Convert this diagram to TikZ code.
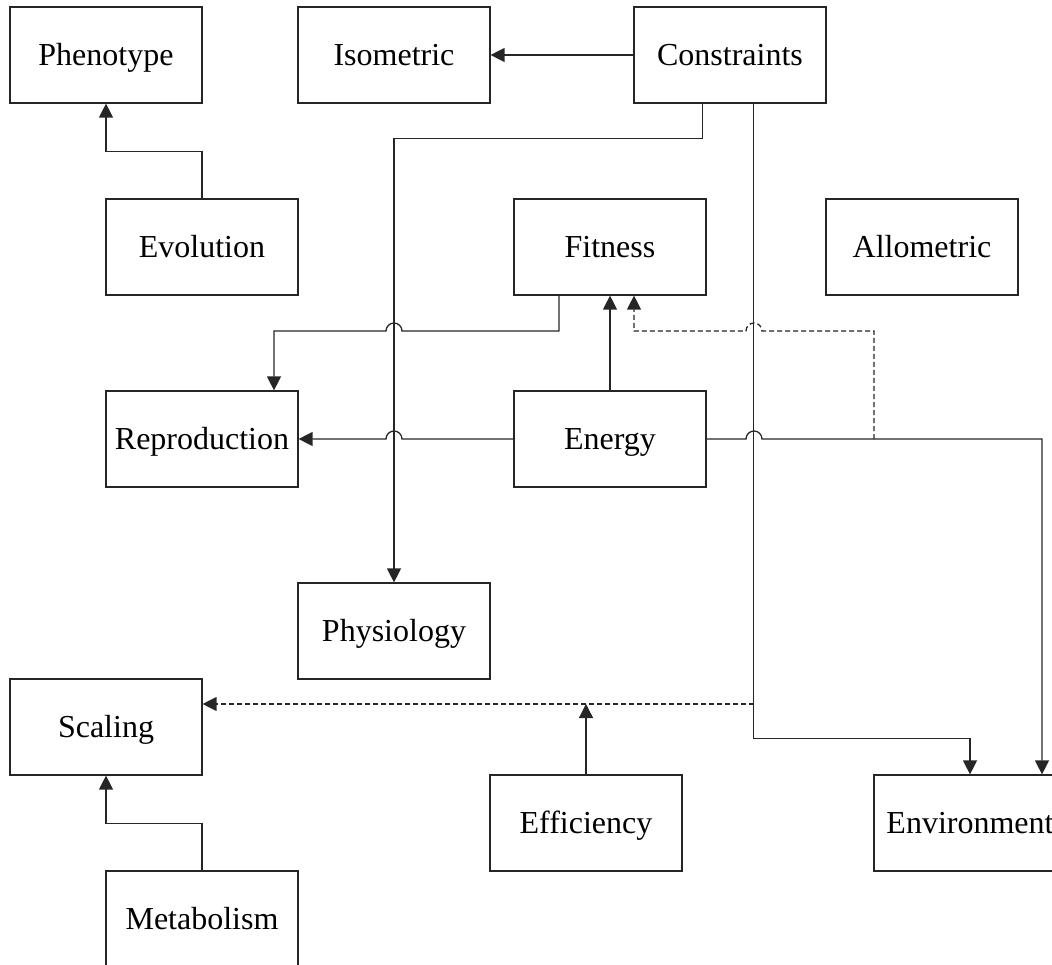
\documentclass[tikz,border=0pt]{standalone}
\usepackage{fontspec}
\setmainfont{Liberation Serif}
\usetikzlibrary{arrows.meta,calc}
\begin{document}
\begin{tikzpicture}[x=1pt,y=-1pt,
  box/.style={draw=black!85,line width=1.2pt,minimum width=192pt,minimum height=96pt,
              inner sep=0pt,text height=21pt,text depth=0pt,
              font=\fontsize{32}{38}\selectfont},
  link/.style={draw=black!85,line width=1.3pt},
  arr/.style={link,-{Triangle[length=14pt,width=14pt]}},
  dashline/.style={dash pattern=on 5pt off 3pt}]
\useasboundingbox (0,0) rectangle (1052,965);
\clip (0,0) rectangle (1052,965);

% boxes
\node[box] (pheno)  at (106,55)  {Phenotype};
\node[box] (iso)    at (394,55)  {Isometric};
\node[box] (cons)   at (730,55)  {Constraints};
\node[box] (evo)    at (202,247) {Evolution};
\node[box] (fit)    at (610,247) {Fitness};
\node[box] (allo)   at (922,247) {Allometric};
\node[box] (repro)  at (202,439) {Reproduction};
\node[box] (energy) at (610,439) {Energy};
\node[box] (phys)   at (394,631) {Physiology};
\node[box] (scal)   at (106,727) {Scaling};
\node[box] (eff)    at (586,823) {Efficiency};
\node[box] (env)    at (970,823) {Environment};
\node[box] (meta)   at (202,919) {Metabolism};

% branch points on existing lines
\coordinate (tapE) at (874,439);
\coordinate (tapC) at (754,704);

% solid connectors
\draw[arr] (cons.west) -- (iso.east);
\draw[arr] (evo.north) |- ($(pheno.south)+(0,48)$) -- (pheno.south);
\draw[arr] ($(cons.south west)+(69,0)$) |- ($(phys.north)+(0,-444)$) -- (phys.north);
\draw[arr] ($(cons.south west)+(120,0)$) |- ($(env.north)+(0,-36)$) -- (env.north);
\draw[arr] ($(fit.south)+(-51,0)$) |- (402,331)
  arc[start angle=0,end angle=-180,radius=8] -| ($(repro.north)+(72,0)$);
\draw[arr] (energy.north) -- (fit.south);
\draw[arr] (energy.west) -- (402,439)
  arc[start angle=0,end angle=-180,radius=8] -- (repro.east);
\draw[arr] (energy.east) -- (746,439)
  arc[start angle=180,end angle=360,radius=8] -| ($(env.north)+(72,0)$);
\draw[arr] (eff.north) -- (eff.north |- tapC);
\draw[arr] (meta.north) |- ($(scal.south)+(0,48)$) -- (scal.south);

% dashed connectors
\draw[arr,dashline] (tapE) |- (762,331)
  arc[start angle=0,end angle=-180,radius=8] -| ($(fit.south)+(24,0)$);
\draw[arr,dashline] (tapC) -- (scal.east |- tapC);
\end{tikzpicture}
\end{document}
